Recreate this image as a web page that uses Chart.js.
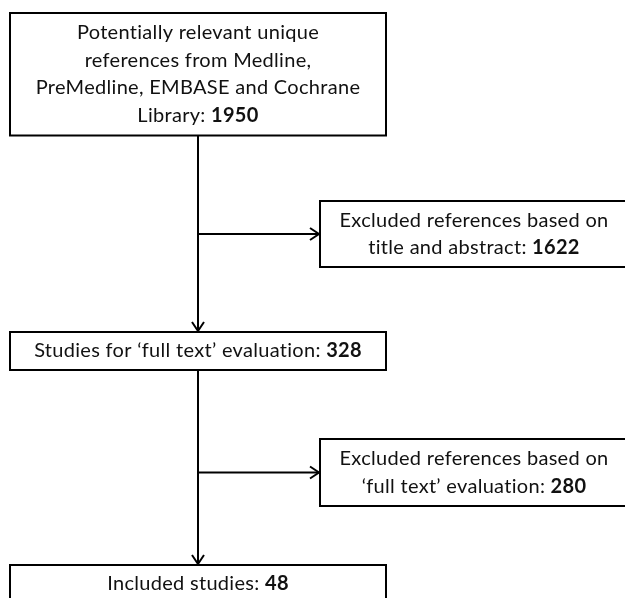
<!DOCTYPE html>
<html>
<head>
<meta charset="utf-8">
<script src="https://cdn.jsdelivr.net/npm/chart.js@4.4.1/dist/chart.umd.min.js"></script>
<style>
  html, body { margin: 0; padding: 0; background: #fff; }
  canvas { display: block; }
</style>
</head>
<body>
<canvas id="flowChart" width="625" height="598"></canvas>
<script>
// main path of the review
const mainLines = [
  ['Potentially relevant unique', 'references from Medline,', 'PreMedline, EMBASE and Cochrane', 'Library: '],
  ['Studies for \u2018full text\u2019 evaluation: '],
  ['Included studies: ']
];
const mainCounts = [1950, 328, 48];

// side boxes (excluded)
const excludedLines = [
  ['Excluded references based on', 'title and abstract: '],
  ['Excluded references based on', '\u2018full text\u2019 evaluation: ']
];
const excludedCounts = [1622, 280];

// layout, in axis units (x 0..625, y 0..598 top-down)
const spineX = 198;
const mainBox = { left: 10, right: 386, rows: [[13, 135.5], [332, 370], [565, 603]] };
const sideBox = { left: 320, right: 628, rows: [[201, 267], [439, 506]] };
const lineGap = 27.5;
const fontSize = 20;
const fontFamily = 'Lato, "Open Sans", sans-serif';

function setFont(ctx, bold) {
  ctx.font = (bold ? 'bold ' : '') + fontSize + 'px ' + fontFamily;
  ctx.letterSpacing = '0.3px'; // also stops the "ti" ligature
}

function drawText(ctx, lines, count, cx, cy) {
  const top = cy - (lines.length - 1) * lineGap / 2;
  ctx.textBaseline = 'middle';
  ctx.textAlign = 'left';
  lines.forEach((txt, i) => {
    const last = i === lines.length - 1;
    setFont(ctx, false);
    const w1 = ctx.measureText(txt).width;
    let w2 = 0;
    if (last) {
      setFont(ctx, true);
      w2 = ctx.measureText(String(count)).width;
    }
    const x0 = cx - (w1 + w2) / 2;
    const y = top + i * lineGap;
    setFont(ctx, false);
    ctx.fillText(txt, x0, y);
    if (last) {
      setFont(ctx, true);
      ctx.fillText(String(count), x0 + w1, y);
    }
  });
}

function arrowHead(ctx, x, y, dir) {
  ctx.beginPath();
  if (dir === 'down') {
    ctx.moveTo(x - 6, y - 9); ctx.lineTo(x, y); ctx.lineTo(x + 6, y - 9);
  } else {
    ctx.moveTo(x - 9, y - 6); ctx.lineTo(x, y); ctx.lineTo(x - 9, y + 6);
  }
  ctx.stroke();
}

const flowPlugin = {
  id: 'flow',
  afterDraw(chart) {
    const ctx = chart.ctx;
    const sx = chart.scales.x, sy = chart.scales.y;
    const px = v => sx.getPixelForValue(v);
    const py = v => sy.getPixelForValue(v);
    ctx.save();
    ctx.strokeStyle = '#000';
    ctx.fillStyle = '#111';
    ctx.lineWidth = 2;

    // boxes on the main path
    mainBox.rows.forEach((r, i) => {
      const x1 = px(mainBox.left), x2 = px(mainBox.right);
      const y1 = py(r[0]), y2 = py(r[1]);
      ctx.strokeRect(x1, y1, x2 - x1, y2 - y1);
      drawText(ctx, mainLines[i], mainCounts[i], (x1 + x2) / 2, (y1 + y2) / 2);
    });

    // excluded boxes
    sideBox.rows.forEach((r, i) => {
      const x1 = px(sideBox.left), x2 = px(sideBox.right);
      const y1 = py(r[0]), y2 = py(r[1]);
      ctx.strokeRect(x1, y1, x2 - x1, y2 - y1);
      drawText(ctx, excludedLines[i], excludedCounts[i], (x1 + x2) / 2, (y1 + y2) / 2);
    });

    // vertical connectors + branch arrows
    const xs = px(spineX);
    for (let i = 0; i < mainBox.rows.length - 1; i++) {
      const yA = py(mainBox.rows[i][1]);
      const yB = py(mainBox.rows[i + 1][0]);
      ctx.beginPath(); ctx.moveTo(xs, yA); ctx.lineTo(xs, yB - 1); ctx.stroke();
      arrowHead(ctx, xs, yB - 1, 'down');

      const side = sideBox.rows[i];
      const yM = py((side[0] + side[1]) / 2);
      const xe = px(sideBox.left) - 1;
      ctx.beginPath(); ctx.moveTo(xs, yM); ctx.lineTo(xe, yM); ctx.stroke();
      arrowHead(ctx, xe, yM, 'right');
    }
    ctx.restore();
  }
};

new Chart(document.getElementById('flowChart').getContext('2d'), {
  type: 'scatter',
  data: { datasets: [{ data: [], showLine: false }] },
  options: {
    responsive: false,
    animation: false,
    layout: { padding: 0 },
    plugins: { legend: { display: false }, tooltip: { enabled: false } },
    scales: {
      x: { type: 'linear', min: 0, max: 625, display: false },
      y: { type: 'linear', min: 0, max: 598, reverse: true, display: false }
    }
  },
  plugins: [flowPlugin]
});
</script>
</body>
</html>
